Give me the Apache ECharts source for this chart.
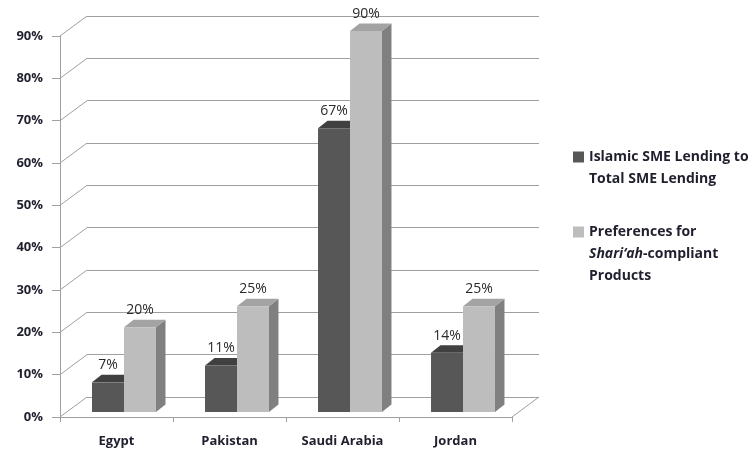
<!DOCTYPE html>
<html>
<head>
<meta charset="utf-8">
<script src="https://cdn.jsdelivr.net/npm/echarts@6/dist/echarts.min.js"></script>
<style>
  html, body { margin: 0; padding: 0; background: #ffffff; }
  #chart { width: 751px; height: 450px; }
</style>
</head>
<body>
<div id="chart"></div>
<script>
// Countries and the two measured shares (percent)
const categories = ['Egypt', 'Pakistan', 'Saudi Arabia', 'Jordan'];
const islamicLendingShare = [7, 11, 67, 14];
const shariahPreference = [20, 25, 90, 25];

// Value axis ticks
const yTicks = [0, 10, 20, 30, 40, 50, 60, 70, 80, 90];

const seriesNames = ['Islamic SME Lending to Total SME Lending', 'Preferences for Shariah-compliant Products'];

// Pseudo-3D geometry: offset of the back wall relative to the front plane,
// where the bars stand on the floor, and how deep each column is.
const WALL_DX = 27, WALL_DY = -20;
const FRONT_DX = 7.5, FRONT_DY = -5;
const BAR_DX = 9.5, BAR_DY = -7.5;
const BAR_FRAC = 0.283;

const FONT = '"Open Sans", Lato, sans-serif';
const GRID_COLOR = '#a0a0a0';
const TEXT_COLOR = '#1f1f2e';

const palette = [
  { front: '#575757', top: '#404040', side: '#3c3c3c' },
  { front: '#bdbdbd', top: '#a3a3a3', side: '#808080' }
];

function columnRenderer(slot) {
  const c = palette[slot];
  return function (params, api) {
    const cat = api.value(0);
    const val = api.value(1);
    const base = api.coord([cat, 0]);
    const top = api.coord([cat, val]);
    const w = api.size([1, 0])[0] * BAR_FRAC;
    const x0 = base[0] + FRONT_DX + (slot === 0 ? -w : 0);
    const x1 = x0 + w;
    const yb = base[1] + FRONT_DY;
    const yt = top[1] + FRONT_DY;
    return {
      type: 'group',
      children: [
        { type: 'polygon', shape: { points: [[x1, yt], [x1 + BAR_DX, yt + BAR_DY], [x1 + BAR_DX, yb + BAR_DY], [x1, yb]] },
          style: { fill: c.side } },
        { type: 'polygon', shape: { points: [[x0, yt], [x1, yt], [x1 + BAR_DX, yt + BAR_DY], [x0 + BAR_DX, yt + BAR_DY]] },
          style: { fill: c.top } },
        { type: 'rect', shape: { x: x0, y: yt, width: w, height: yb - yt },
          style: { fill: c.front } },
        { type: 'text', x: x0 + w / 2, y: yt - 17,
          style: { text: val + '%', fill: '#2a2a2a', font: 'normal 14px ' + FONT, align: 'center', verticalAlign: 'middle' } }
      ]
    };
  };
}

// Side-wall diagonals joining each front tick to its back-wall gridline,
// plus the right edge of the floor.
function wallRenderer(params, api) {
  const cs = params.coordSys;
  const v = api.value(0);
  const y = api.coord([0, v])[1];
  const lineStyle = { stroke: GRID_COLOR, lineWidth: 1 };
  const children = [
    { type: 'line', shape: { x1: cs.x, y1: y, x2: cs.x + WALL_DX, y2: y + WALL_DY }, style: lineStyle }
  ];
  if (v === 0) {
    children.push({ type: 'line', shape: { x1: cs.x + cs.width, y1: y, x2: cs.x + cs.width + WALL_DX, y2: y + WALL_DY }, style: lineStyle });
  }
  return { type: 'group', children: children };
}

const chart = echarts.init(document.getElementById('chart'), null, { renderer: 'canvas' });

const frontGrid = { left: 60, right: 239, top: 36, bottom: 33 };
const backGrid = {
  left: frontGrid.left + WALL_DX, right: frontGrid.right - WALL_DX,
  top: frontGrid.top + WALL_DY, bottom: frontGrid.bottom - WALL_DY
};

const legendText = {
  fontFamily: FONT, fontSize: 14, fontWeight: 'bold', color: TEXT_COLOR, lineHeight: 22
};

chart.setOption({
  animation: false,
  backgroundColor: '#ffffff',
  grid: [frontGrid, backGrid],
  xAxis: [
    {
      type: 'category', gridIndex: 0, data: categories,
      axisLine: { lineStyle: { color: GRID_COLOR, width: 1 } },
      axisTick: { show: true, length: 5, lineStyle: { color: GRID_COLOR } },
      axisLabel: { margin: 18, fontFamily: FONT, fontSize: 13, fontWeight: 'bold', color: TEXT_COLOR },
      splitLine: { show: false }
    },
    { type: 'category', gridIndex: 1, data: categories, show: false }
  ],
  yAxis: [
    {
      type: 'value', gridIndex: 0, min: yTicks[0], max: yTicks[yTicks.length - 1], interval: yTicks[1] - yTicks[0],
      axisLine: { show: true, lineStyle: { color: GRID_COLOR, width: 1 } },
      axisTick: { show: true, length: 8, lineStyle: { color: GRID_COLOR } },
      axisLabel: { margin: 17, formatter: '{value}%', fontFamily: FONT, fontSize: 13, fontWeight: 'bold', color: TEXT_COLOR },
      splitLine: { show: false }
    },
    {
      type: 'value', gridIndex: 1, min: yTicks[0], max: yTicks[yTicks.length - 1], interval: yTicks[1] - yTicks[0],
      axisLine: { show: false }, axisTick: { show: false }, axisLabel: { show: false },
      splitLine: { show: true, lineStyle: { color: GRID_COLOR, width: 1 } }
    }
  ],
  legend: {
    orient: 'vertical', left: 573, top: 124, padding: 0, itemGap: -13,
    itemWidth: 11, itemHeight: 11, icon: 'rect',
    data: [
      { name: seriesNames[0], textStyle: { padding: [22, 0, 0, 0] } },
      { name: seriesNames[1], textStyle: { padding: [44, 0, 0, 0] } }
    ],
    formatter: function (name) {
      if (name === seriesNames[0]) {
        return '{b|Islamic SME Lending to}\n{b|Total SME Lending}';
      }
      return '{b|Preferences for}\n{i|Shari‘ah}{b|-compliant}\n{b|Products}';
    },
    textStyle: {
      fontFamily: FONT, fontSize: 14, lineHeight: 22,
      rich: {
        b: legendText,
        i: Object.assign({}, legendText, { fontStyle: 'italic' })
      }
    }
  },
  series: [
    {
      type: 'custom', name: 'walls', xAxisIndex: 0, yAxisIndex: 0, silent: true,
      data: yTicks.map(v => [v]), encode: { y: 0 },
      renderItem: wallRenderer, z: 1
    },
    {
      type: 'custom', name: seriesNames[0], xAxisIndex: 0, yAxisIndex: 0,
      itemStyle: { color: palette[0].front },
      data: islamicLendingShare.map((v, i) => [i, v]), encode: { x: 0, y: 1 },
      renderItem: columnRenderer(0), z: 2
    },
    {
      type: 'custom', name: seriesNames[1], xAxisIndex: 0, yAxisIndex: 0,
      itemStyle: { color: palette[1].front },
      data: shariahPreference.map((v, i) => [i, v]), encode: { x: 0, y: 1 },
      renderItem: columnRenderer(1), z: 3
    }
  ]
});
</script>
</body>
</html>
